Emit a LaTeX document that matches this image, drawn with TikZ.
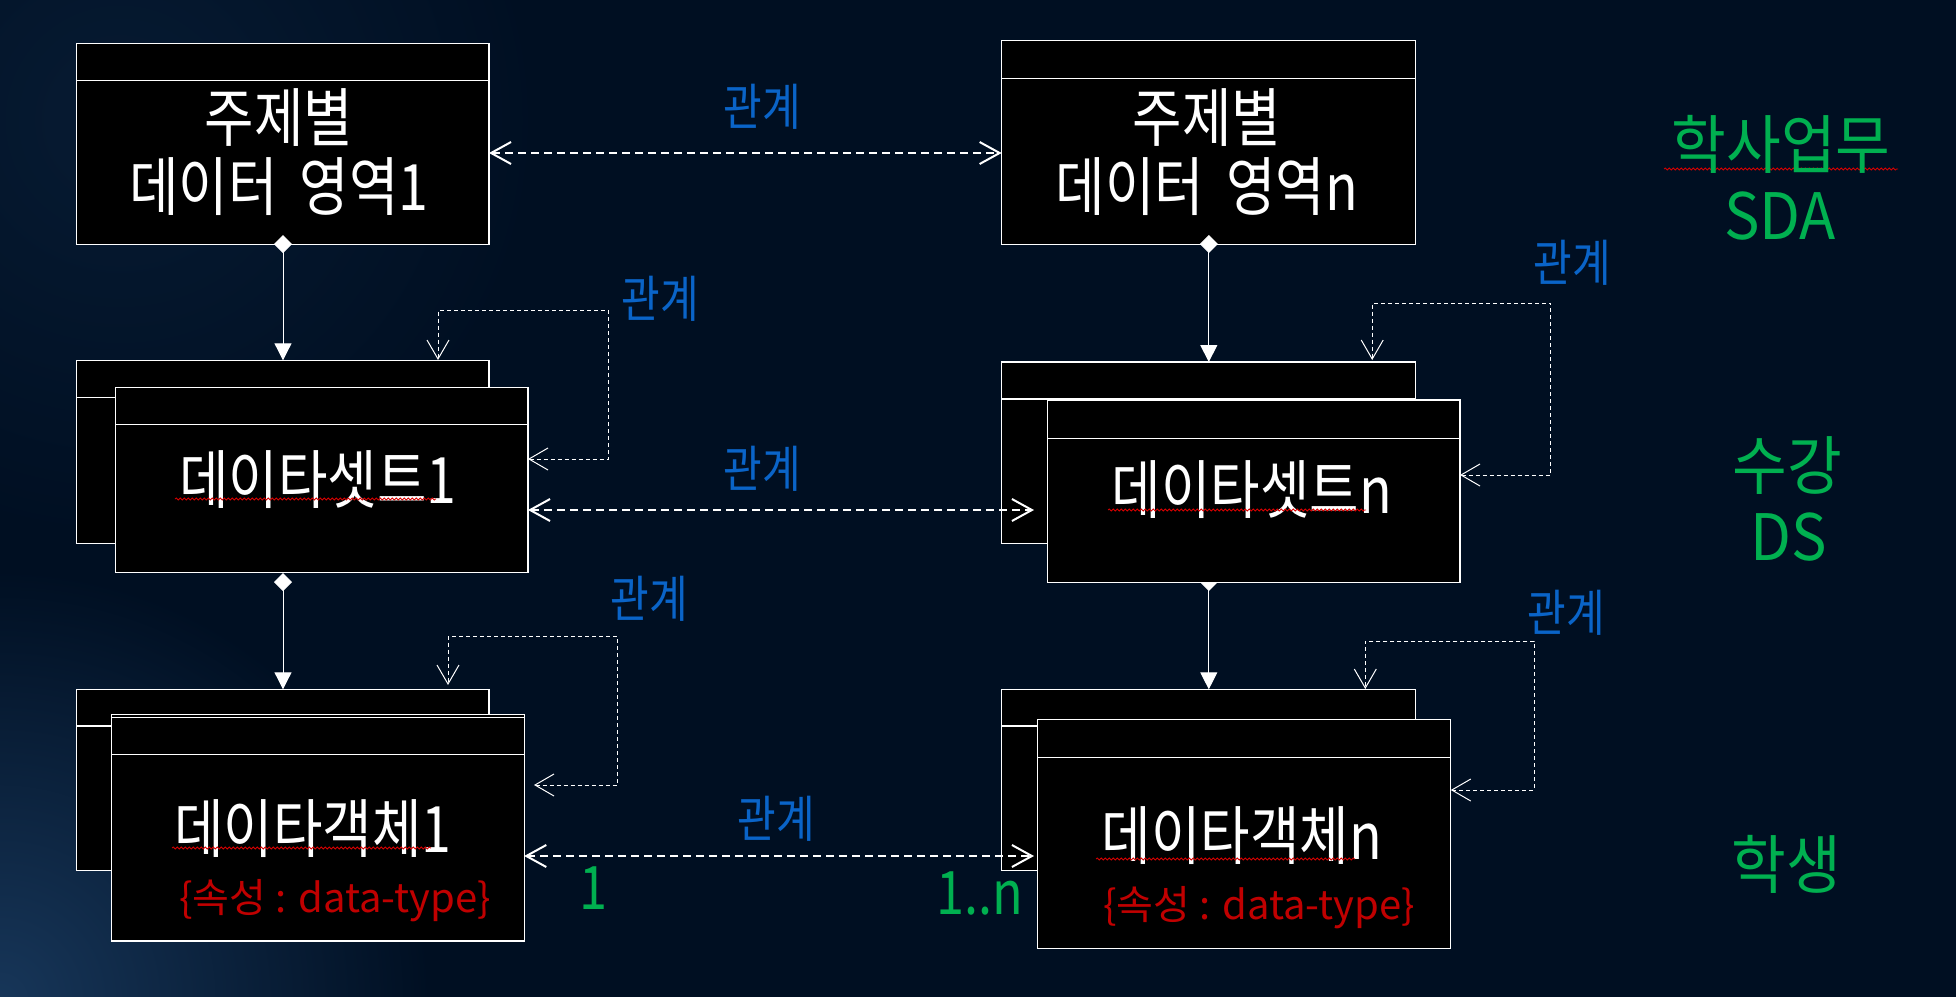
\documentclass[tikz,border=0pt]{standalone}
\usepackage{fontspec}
\usetikzlibrary{arrows.meta,decorations.pathmorphing}
\newfontfamily\krn[FakeStretch=0.84]{Noto Sans CJK KR}
\newfontfamily\krg[FakeStretch=0.93]{Noto Sans CJK KR}
\newfontfamily\krw{Noto Sans CJK KR}
\definecolor{bgc}{HTML}{000F22}
\definecolor{bglight}{HTML}{173659}
\definecolor{relblue}{HTML}{0A64C8}
\definecolor{grn}{HTML}{00B050}
\definecolor{redt}{HTML}{C00000}
\pgfdeclarelayer{back}
\pgfdeclarelayer{under}
\pgfsetlayers{back,under,main}
\tikzset{
  ubx/.style={draw=white, fill=black, line width=1.3pt, inner sep=0pt, outer sep=0pt, anchor=north west},
  ubl/.style={draw=white, line width=1.3pt},
  wtxt/.style={text=white, font=\krn\fontsize{64}{69}\selectfont, align=center, inner sep=0pt},
  btxt/.style={text=relblue, font=\krn\fontsize{50}{56}\selectfont, inner sep=0pt},
  rtxt/.style={text=redt, font=\krw\fontsize{40}{46}\selectfont, inner sep=0pt},
  gtxt/.style={text=grn, font=\krg\fontsize{64}{70}\selectfont, align=center, inner sep=0pt},
  ntxt/.style={text=grn, font=\krn\fontsize{60}{68}\selectfont, inner sep=0pt},
  rel/.style={draw=white, line width=2pt, dash pattern=on 8pt off 5pt,
    {Straight Barb[length=20pt,width=22pt,line width=2pt]}-{Straight Barb[length=20pt,width=22pt,line width=2pt]}},
  selfrel/.style={draw=white, line width=1pt, dash pattern=on 4pt off 3pt,
    {Straight Barb[length=19pt,width=22pt,line width=1pt]}-{Straight Barb[length=19pt,width=22pt,line width=1pt]}},
  comp/.style={draw=white, fill=white, line width=1pt,
    {Diamond[length=18pt,width=18pt]}-{Triangle[length=17pt,width=17pt]}},
  squig/.style={draw=red!85!black, line width=0.8pt, decorate, decoration={snake, segment length=4pt, amplitude=1pt}},
}
\newcommand\ubox[6]{%
  \node[ubx, minimum width={#4-#2}, minimum height={#5-#3}] (#1) at (#2,#3) {};
  \draw[ubl] (#1.west |- 0,#6) -- (#1.east |- 0,#6);
}
\begin{document}
\begin{tikzpicture}[x=1pt,y=-1pt]
\useasboundingbox (0,0) rectangle (1956,996);
\begin{pgfonlayer}{back}
  \fill[bgc] (-6,-6) rectangle (1962,1002);
  \begin{scope}
    \clip (-6,-6) rectangle (1962,1002);
    \shade[inner color=bglight, outer color=bgc] (0,1000) circle (430);
    \shade[inner color=bgc!70!bglight, outer color=bgc] (120,120) circle (420);
  \end{scope}
\end{pgfonlayer}

% ---- boxes ----
\ubox{a1}{76.5}{43.3}{489}{244.3}{80.3}
\ubox{an}{1001.7}{40.3}{1415.8}{244.3}{78.3}
\ubox{ds1b}{76.5}{360.3}{489}{543.3}{397.3}
\ubox{ds1f}{115.4}{387.3}{528}{572.3}{424.3}
\ubox{dsnb}{1001.7}{362}{1415.8}{543.3}{399}
\ubox{dsnf}{1047.2}{400}{1460}{582.3}{438.3}
\ubox{ob1b}{76.5}{689.3}{489}{870.3}{726}
\node[ubx, minimum width={524.2-111.5}, minimum height={938-714.3}] (ob1m) at (111.5,714.3) {};
\ubox{ob1f}{111.6}{717.3}{524.2}{941}{754.3}
\ubox{obnb}{1001.7}{689.3}{1415.8}{870.3}{726}
\ubox{obnf}{1037.3}{719.3}{1450.8}{948.3}{757.7}

% ---- texts in boxes ----
\node[wtxt] (ta1) at (279,152) {주제별\\데이터\hspace{10pt} 영역1};
\node[wtxt] (tan) at (1207,152) {주제별\\데이터\hspace{10pt} 영역n};
\node[wtxt] (tds1) at (318,480) {데이타셋트1};
\node[wtxt] (tdsn) at (1252,490) {데이타셋트n};
\node[wtxt] (tob1) at (313,829) {데이타객체1};
\node[wtxt] (tobn) at (1242,836) {데이타객체n};
\node[rtxt] (rob1) at (335,901) {\{속성 : data-type\}};
\node[rtxt] (robn) at (1259,908) {\{속성 : data-type\}};

% spell-check squiggles
\draw[squig] (175,499) -- (436,499);
\draw[squig] (1108,510) -- (1366,510);
\draw[squig] (172,848) -- (431,848);
\draw[squig] (1096,859) -- (1355,859);
\draw[squig] (1664,169) -- (1898,169);

% ---- relation labels ----
\node[btxt] (lb1) at (762,107) {관계};
\node[btxt] (lb2) at (660,299) {관계};
\node[btxt] (lb3) at (762,469) {관계};
\node[btxt] (lb4) at (1572,263) {관계};
\node[btxt] (lb5) at (649,599) {관계};
\node[btxt] (lb6) at (1566,613) {관계};
\node[btxt] (lb7) at (776,819) {관계};

% ---- right side labels ----
\node[gtxt] (g1) at (1781,144) {학사업무};
\node[gtxt] (g2) at (1780,216) {SDA};
\node[gtxt] (g3) at (1787,466) {수강};
\node[gtxt] (g4) at (1789,537) {DS};
\node[gtxt] (g5) at (1786,864) {학생};
\node[ntxt] (m1) at (593,888) {1};
\node[ntxt] (mn) at (980,893) {1..n};

% ---- composition connectors ----
\coordinate (c1s) at (283,235);
\coordinate (c1e) at (ds1b.north -| 283,0);
\draw[comp] (c1s) -- (c1e);
\coordinate (c2s) at (1208.8,235);
\coordinate (c2e) at (dsnb.north -| 1208.8,0);
\draw[comp] (c2s) -- (c2e);
\coordinate (c3s) at (283,573);
\coordinate (c3e) at (ob1b.north -| 283,0);
\draw[comp] (c3s) -- (c3e);
\begin{pgfonlayer}{under}
\coordinate (c4s) at (1208.8,573);
\coordinate (c4e) at (1208.8,689.3);
\draw[comp] (c4s) -- (c4e);
\end{pgfonlayer}

% ---- horizontal relations ----
\coordinate (h1a) at (a1.east |- 0,153);
\coordinate (h1b) at (an.west |- 0,153);
\draw[rel] (h1a) -- (h1b);
\coordinate (h2a) at (ds1f.east |- 0,510);
\coordinate (h2b) at (1034,510);
\draw[rel] (h2a) -- (h2b);
\coordinate (h3a) at (ob1f.east |- 0,856);
\coordinate (h3b) at (1034,856);
\draw[rel] (h3a) -- (h3b);

% ---- self relations ----
\coordinate (s1a) at (ds1f.east |- 0,459);
\coordinate (s1b) at (438,360);
\draw[selfrel] (s1a) -| (608,310) -| (s1b);
\coordinate (s2a) at (dsnf.east |- 0,475);
\coordinate (s2b) at (1372.2,360);
\draw[selfrel] (s2a) -| (1550.6,303) -| (s2b);
\coordinate (s3a) at (534,785);
\coordinate (s3b) at (448,685);
\draw[selfrel] (s3a) -| (617,636) -| (s3b);
\coordinate (s4a) at (obnf.east |- 0,790);
\coordinate (s4b) at (1365.3,689);
\draw[selfrel] (s4a) -| (1534.3,641) -| (s4b);
\end{tikzpicture}
\end{document}
